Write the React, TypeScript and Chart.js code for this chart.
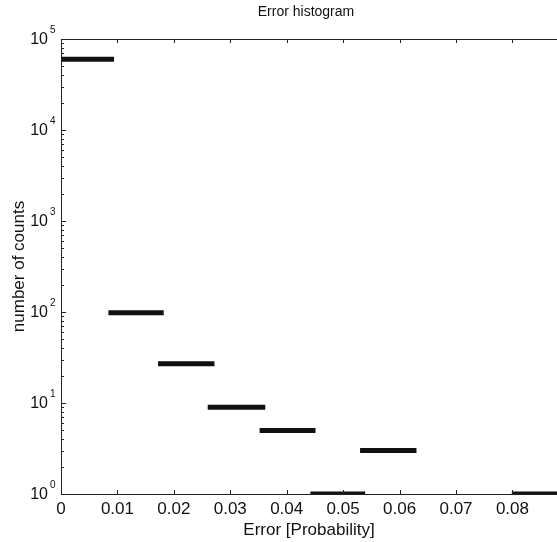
import React, { useEffect, useRef } from 'react';
import { Chart, registerables } from 'chart.js';
Chart.register(...registerables);

// histogram bars (only non-empty bins)
const barStarts = [0, 0.0084, 0.0172, 0.026, 0.0352, 0.0442, 0.053, 0.0799];
const barEnds = [0.0094, 0.0182, 0.0272, 0.0362, 0.0451, 0.0539, 0.063, 0.0897];
const counts = [60000, 98, 27, 9, 5, 1, 3, 1];
const xTickValues = [0, 0.01, 0.02, 0.03, 0.04, 0.05, 0.06, 0.07, 0.08];
const xTickLabels = ['0', '0.01', '0.02', '0.03', '0.04', '0.05', '0.06', '0.07', '0.08'];
const yExponents = [0, 1, 2, 3, 4, 5];

const FONT = '"Liberation Sans", Arial, Helvetica, sans-serif';

const axisPlugin = {
  id: 'matlabAxes',
  afterDraw(chart: any) {
    const { ctx, chartArea } = chart;
    const xs = chart.scales.x;
    const ys = chart.scales.y;
    ctx.save();
    ctx.strokeStyle = '#222';
    ctx.lineWidth = 1;
    // top border
    ctx.beginPath();
    ctx.moveTo(chartArea.left, Math.round(chartArea.top) + 0.5);
    ctx.lineTo(chartArea.right, Math.round(chartArea.top) + 0.5);
    ctx.stroke();
    // x ticks inward (top and bottom)
    ctx.beginPath();
    xTickValues.forEach((v) => {
      const px = Math.round(xs.getPixelForValue(v)) + 0.5;
      ctx.moveTo(px, chartArea.bottom);
      ctx.lineTo(px, chartArea.bottom - 4);
      ctx.moveTo(px, chartArea.top);
      ctx.lineTo(px, chartArea.top + 4);
    });
    ctx.stroke();
    // y ticks major & minor
    ctx.beginPath();
    yExponents.forEach((e) => {
      const base = Math.pow(10, e);
      const py = Math.round(ys.getPixelForValue(base)) + 0.5;
      ctx.moveTo(chartArea.left, py);
      ctx.lineTo(chartArea.left + 5, py);
      if (e < 5) {
        for (let m = 2; m <= 9; m++) {
          const my = Math.round(ys.getPixelForValue(base * m)) + 0.5;
          ctx.moveTo(chartArea.left, my);
          ctx.lineTo(chartArea.left + 3, my);
        }
      }
    });
    ctx.stroke();
    // y tick labels with superscripts
    ctx.fillStyle = '#111';
    yExponents.forEach((e) => {
      const py = ys.getPixelForValue(Math.pow(10, e));
      ctx.font = '16px ' + FONT;
      ctx.textAlign = 'right';
      ctx.textBaseline = 'middle';
      ctx.fillText('10', 48, py + 1);
      ctx.font = '10px ' + FONT;
      ctx.textAlign = 'left';
      ctx.fillText(String(e), 50, py - 9);
    });
    // title
    ctx.font = '14px ' + FONT;
    ctx.textAlign = 'center';
    ctx.textBaseline = 'middle';
    ctx.fillText('Error histogram', 306, 12);
    ctx.restore();
  },
};

export default function App() {
  const ref = useRef<HTMLCanvasElement>(null);
  useEffect(() => {
    document.body.style.margin = '0';
    const pts: any[] = [];
    barStarts.forEach((s, i) => {
      pts.push({ x: s, y: counts[i] });
      pts.push({ x: barEnds[i], y: counts[i] });
      pts.push({ x: barEnds[i], y: null });
    });
    const chart = new Chart(ref.current!, {
      type: 'line',
      data: {
        datasets: [
          {
            data: pts,
            borderColor: '#111',
            borderWidth: 5,
            borderCapStyle: 'butt',
            pointRadius: 0,
            tension: 0,
            spanGaps: false,
            fill: false,
          } as any,
        ],
      },
      options: {
        responsive: false,
        animation: false,
        layout: { padding: { top: 39, right: 0, left: 0, bottom: 0 } },
        plugins: { legend: { display: false }, tooltip: { enabled: false }, title: { display: false } },
        scales: {
          x: {
            type: 'linear',
            min: 0,
            max: 0.0879,
            grid: { display: false, drawTicks: false },
            border: { display: true, color: '#222', width: 1 },
            afterBuildTicks: (s: any) => {
              s.ticks = xTickValues.map((v) => ({ value: v }));
            },
            afterFit: (s: any) => {
              s.height = 48;
            },
            ticks: {
              padding: 5,
              color: '#111',
              font: { family: FONT, size: 17 },
              maxRotation: 0,
              autoSkip: false,
              callback: (v: any) => {
                const i = xTickValues.findIndex((t) => Math.abs(t - v) < 1e-9);
                return i >= 0 ? xTickLabels[i] : '';
              },
            },
            title: {
              display: true,
              text: 'Error [Probability]',
              color: '#111',
              font: { family: FONT, size: 17 },
              padding: { top: 1, bottom: 1 },
            },
          },
          y: {
            type: 'logarithmic',
            min: 1,
            max: 100000,
            grid: { display: false, drawTicks: false },
            border: { display: true, color: '#222', width: 1 },
            ticks: { display: false },
            afterFit: (s: any) => {
              s.width = 61;
            },
            title: {
              display: true,
              text: 'number of counts',
              color: '#111',
              font: { family: FONT, size: 17 },
              padding: { top: 9, bottom: 9 },
            },
          },
        },
      },
      plugins: [axisPlugin],
    });
    return () => chart.destroy();
  }, []);
  return (
    <div style={{ position: 'absolute', left: 0, top: 0, width: 557, height: 542, background: '#fff' }}>
      <canvas ref={ref} width={557} height={542} style={{ display: 'block' }} />
    </div>
  );
}
